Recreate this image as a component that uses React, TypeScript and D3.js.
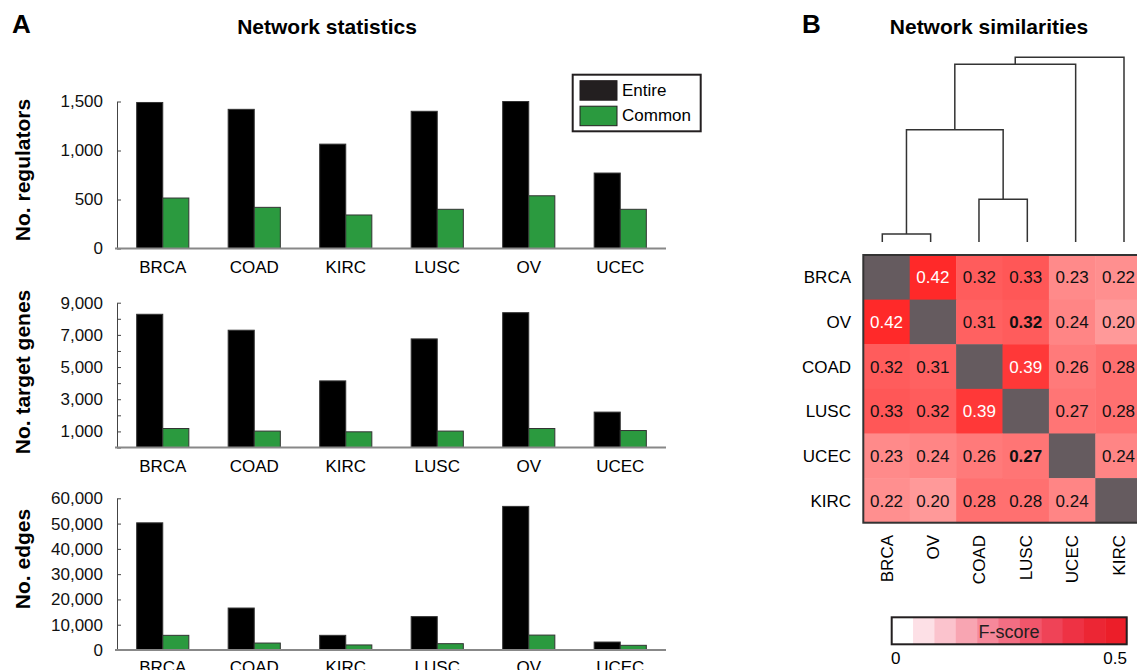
import React, { useEffect, useRef } from "react";
import * as d3 from "d3";

// bar chart data (panel A)
const categories = ["BRCA", "COAD", "KIRC", "LUSC", "OV", "UCEC"];
const regulatorsEntire = [1490, 1420, 1065, 1400, 1500, 770];
const regulatorsCommon = [515, 420, 342, 400, 538, 400];
const targetsEntire = [8280, 7290, 4140, 6750, 8380, 2200];
const targetsCommon = [1180, 1020, 975, 1020, 1180, 1055];
const edgesEntire = [50300, 16600, 5800, 13200, 56800, 3150];
const edgesCommon = [5800, 2750, 2000, 2500, 5900, 1850];
const seriesNames = ["Entire", "Common"];

// heatmap data (panel B)
const hmOrder = ["BRCA", "OV", "COAD", "LUSC", "UCEC", "KIRC"];
const fscore = [
  [null, 0.42, 0.32, 0.33, 0.23, 0.22],
  [0.42, null, 0.31, 0.32, 0.24, 0.2],
  [0.32, 0.31, null, 0.39, 0.26, 0.28],
  [0.33, 0.32, 0.39, null, 0.27, 0.28],
  [0.23, 0.24, 0.26, 0.27, null, 0.24],
  [0.22, 0.2, 0.28, 0.28, 0.24, null],
];
const boldCells = [["OV", "LUSC"], ["UCEC", "LUSC"]];
// dendrogram merges: children are leaf names or merge ids
const merges = [
  { id: "m0", a: "BRCA", b: "OV", h: 0.579 },
  { id: "m1", a: "COAD", b: "LUSC", h: 0.614 },
  { id: "m2", a: "m0", b: "m1", h: 0.684 },
  { id: "m3", a: "m2", b: "UCEC", h: 0.75 },
  { id: "m4", a: "m3", b: "KIRC", h: 0.757 },
];
const legendColors = ["#ffffff", "#fde0e6", "#fbc3cd", "#f8a5b2", "#f6889a", "#f36e83", "#f1566b", "#ef4357", "#ee3244", "#ec2634", "#ec1e29"];

const FONT = "'Liberation Sans', Arial, sans-serif";

const App = () => {
  const svgRef = useRef(null);

  useEffect(() => {
    const svg = d3.select(svgRef.current);
    svg.selectAll("*").remove();

    // ---------- panel A ----------
    svg.append("text").attr("x", 12).attr("y", 33).attr("font-size", 26).attr("font-weight", "bold").text("A");
    svg.append("text").attr("x", 327).attr("y", 34).attr("text-anchor", "middle")
      .attr("font-size", 21).attr("font-weight", "bold").text("Network statistics");

    const x = d3.scaleBand().domain(categories).range([117, 666]).paddingInner(0.43).paddingOuter(0.215);
    const xSub = d3.scaleBand().domain(seriesNames).range([0, x.bandwidth()]);
    const fillOf = { Entire: "#000000", Common: "#2b9a3f" };

    const panels = [
      { entire: regulatorsEntire, common: regulatorsCommon, range: [248.5, 101.5], max: 1500, step: 500,
        label: d => d3.format(",")(d), title: "No. regulators", titleY: 170, catY: 273 },
      { entire: targetsEntire, common: targetsCommon, range: [447.5, 302.7], max: 9000, step: 1000,
        label: d => (d / 1000) % 2 === 1 ? d3.format(",")(d) : "", title: "No. target genes", titleY: 372, catY: 472 },
      { entire: edgesEntire, common: edgesCommon, range: [650, 498.3], max: 60000, step: 10000,
        label: d => d3.format(",")(d), title: "No. edges", titleY: 559, catY: 673 },
    ];

    panels.forEach(p => {
      const y = d3.scaleLinear().domain([0, p.max]).range(p.range);
      const g = svg.append("g");
      const rows = categories.map((c, i) => ({ c, Entire: p.entire[i], Common: p.common[i] }));

      g.selectAll(".grp").data(rows).enter().append("g")
        .attr("transform", d => `translate(${x(d.c)},0)`)
        .selectAll("rect")
        .data(d => seriesNames.map(s => ({ s, v: d[s] })))
        .enter().append("rect")
        .attr("x", d => xSub(d.s))
        .attr("y", d => y(d.v))
        .attr("width", xSub.bandwidth())
        .attr("height", d => y(0) - y(d.v))
        .attr("fill", d => fillOf[d.s])
        .attr("stroke", "#333")
        .attr("stroke-width", 1);

      const ticks = d3.range(0, p.max + 1, p.step);
      const axis = g.append("g").attr("transform", "translate(117,0)")
        .call(d3.axisLeft(y).tickValues(ticks).tickSize(-4).tickSizeOuter(0).tickPadding(14).tickFormat(p.label));
      axis.select(".domain").attr("stroke", "#444");
      axis.selectAll(".tick line").attr("stroke", "#444");
      axis.selectAll("text").attr("font-family", FONT).attr("font-size", 17).attr("fill", "#111");

      g.append("line").attr("x1", 115).attr("x2", 666).attr("y1", y(0)).attr("y2", y(0))
        .attr("stroke", "#888").attr("stroke-width", 2);

      g.selectAll(".cat").data(categories).enter().append("text")
        .attr("x", d => x(d) + x.bandwidth() / 2)
        .attr("y", p.catY)
        .attr("text-anchor", "middle")
        .attr("font-size", 17)
        .text(d => d);

      g.append("text")
        .attr("transform", `translate(30,${p.titleY}) rotate(-90)`)
        .attr("text-anchor", "middle")
        .attr("font-size", 21)
        .attr("font-weight", "bold")
        .text(p.title);
    });

    // legend
    const lg = svg.append("g");
    lg.append("rect").attr("x", 572.7).attr("y", 74.7).attr("width", 128).attr("height", 56.6)
      .attr("fill", "#fff").attr("stroke", "#231f20").attr("stroke-width", 2);
    seriesNames.forEach((s, i) => {
      lg.append("rect").attr("x", 580).attr("y", 80.7 + i * 25.5).attr("width", 37).attr("height", 19.5)
        .attr("fill", s === "Entire" ? "#231f20" : fillOf[s]).attr("stroke", "#231f20").attr("stroke-width", 1);
      lg.append("text").attr("x", 622).attr("y", 96 + i * 25.3).attr("font-size", 17).text(s);
    });

    // ---------- panel B ----------
    svg.append("text").attr("x", 802).attr("y", 33).attr("font-size", 26).attr("font-weight", "bold").text("B");
    svg.append("text").attr("x", 989).attr("y", 34).attr("text-anchor", "middle")
      .attr("font-size", 21).attr("font-weight", "bold").text("Network similarities");

    const hx = d3.scaleBand().domain(hmOrder).range([863.3, 863.3 + 6 * 46.4]);
    const hy = d3.scaleBand().domain(hmOrder).range([255, 522.7]);
    const color = d3.scaleLinear().domain([0, 0.5]).range(["#ffffff", "#ff0000"]).interpolate(d3.interpolateRgb);

    const cells = [];
    hmOrder.forEach((r, i) => hmOrder.forEach((c, j) => cells.push({ r, c, v: fscore[i][j] })));
    const isBold = d => boldCells.some(b => b[0] === d.r && b[1] === d.c);

    const hg = svg.append("g");
    hg.selectAll("rect").data(cells).enter().append("rect")
      .attr("x", d => hx(d.c)).attr("y", d => hy(d.r))
      .attr("width", hx.bandwidth() + 0.5).attr("height", hy.bandwidth() + 0.5)
      .attr("fill", d => d.v === null ? "#655b5f" : color(d.v));
    hg.selectAll("text").data(cells.filter(d => d.v !== null)).enter().append("text")
      .attr("x", d => hx(d.c) + hx.bandwidth() / 2)
      .attr("y", d => hy(d.r) + hy.bandwidth() / 2)
      .attr("dy", "0.36em")
      .attr("text-anchor", "middle")
      .attr("font-size", 17)
      .attr("font-weight", d => isBold(d) ? "bold" : "normal")
      .attr("fill", d => d.v >= 0.39 ? "#fff" : "#111")
      .text(d => d3.format(".2f")(d.v));
    hg.append("rect").attr("x", hx.range()[0]).attr("y", hy.range()[0])
      .attr("width", hx.range()[1] - hx.range()[0]).attr("height", hy.range()[1] - hy.range()[0])
      .attr("fill", "none").attr("stroke", "#333").attr("stroke-width", 2);

    hg.selectAll(".rowlab").data(hmOrder).enter().append("text")
      .attr("x", 851).attr("y", d => hy(d) + hy.bandwidth() / 2).attr("dy", "0.36em")
      .attr("text-anchor", "end").attr("font-size", 17).text(d => d);
    hg.selectAll(".collab").data(hmOrder).enter().append("text")
      .attr("transform", d => `translate(${hx(d) + hx.bandwidth() / 2},535) rotate(-90)`)
      .attr("dy", "0.36em")
      .attr("text-anchor", "end").attr("font-size", 17).text(d => d);

    // dendrogram
    const leafX = d3.scalePoint().domain(hmOrder).range([882.3, 1124]);
    const dy = d3.scaleLinear().domain([0.571, 0.757]).range([242, 57.3]);
    const pos = {};
    hmOrder.forEach(n => { pos[n] = { x: leafX(n), y: dy(0.571) }; });
    const dg = svg.append("g");
    merges.forEach(m => {
      const a = pos[m.a], b = pos[m.b], yy = dy(m.h);
      pos[m.id] = { x: (a.x + b.x) / 2, y: yy };
      dg.append("path")
        .attr("d", `M${a.x},${a.y}V${yy}H${b.x}V${b.y}`)
        .attr("fill", "none").attr("stroke", "#333").attr("stroke-width", 1.5);
    });

    // colour legend
    const lx = d3.scaleBand().domain(d3.range(legendColors.length)).range([891.7, 1126.7]);
    const cl = svg.append("g");
    cl.selectAll("rect").data(legendColors).enter().append("rect")
      .attr("x", (d, i) => lx(i)).attr("y", 617.3).attr("width", lx.bandwidth() + 0.5).attr("height", 27)
      .attr("fill", d => d);
    cl.append("rect").attr("x", 891.7).attr("y", 617.3).attr("width", 235).attr("height", 27)
      .attr("fill", "none").attr("stroke", "#231f20").attr("stroke-width", 2);
    cl.append("text").attr("x", 1009).attr("y", 638).attr("text-anchor", "middle").attr("font-size", 18).attr("fill", "#231f20").text("F-score");
    cl.append("text").attr("x", 891).attr("y", 664).attr("font-size", 17).text("0");
    cl.append("text").attr("x", 1127).attr("y", 664).attr("text-anchor", "end").attr("font-size", 17).text("0.5");
  }, []);

  return (
    <div style={{ position: "absolute", left: 0, top: 0 }}>
      <svg ref={svgRef} width={1137} height={670} style={{ display: "block", fontFamily: FONT }} />
    </div>
  );
};

export default App;
